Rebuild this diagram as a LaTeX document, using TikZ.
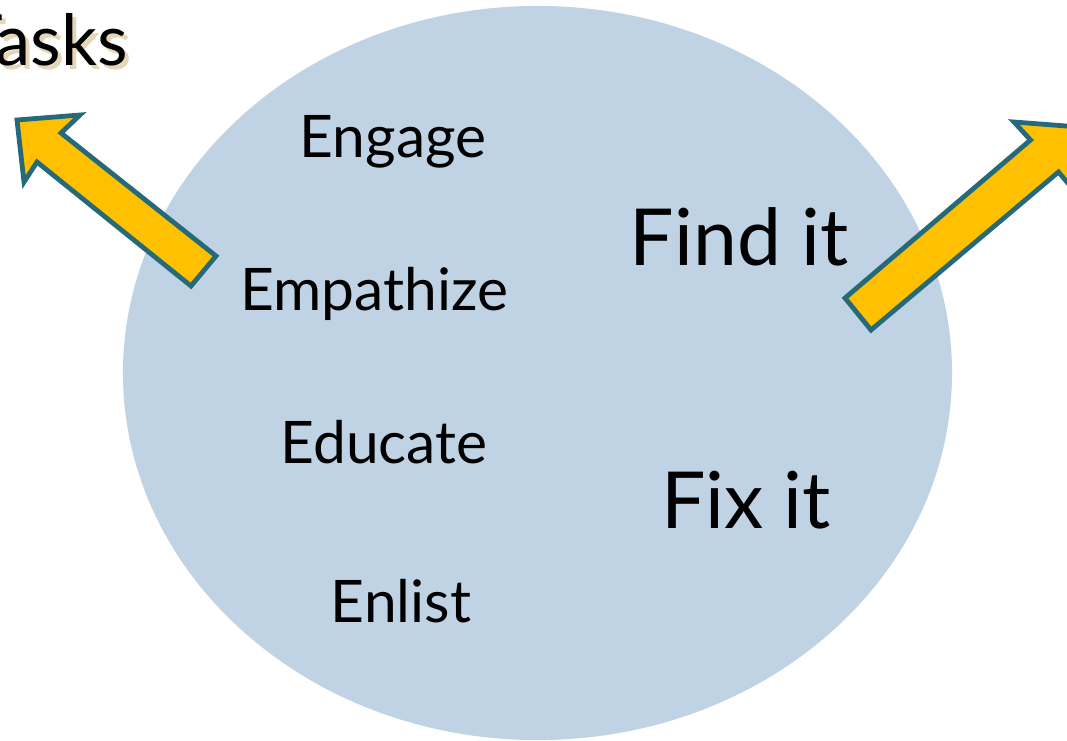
\documentclass[tikz,border=0pt]{standalone}
\usepackage{fontspec}
\setmainfont{Lato}
\definecolor{bubble}{RGB}{192,211,228}
\definecolor{arrowfill}{RGB}{255,192,0}
\definecolor{arrowline}{RGB}{38,106,122}
\definecolor{shade}{RGB}{230,214,184}
\begin{document}
\begin{tikzpicture}[
    x=0.75pt, y=-0.75pt,
    blockarrow/.style={fill=arrowfill, draw=arrowline, line width=3.6pt, line join=miter},
    word/.style={anchor=base, inner sep=0pt, font=\fontsize{44}{50}\selectfont},
    bigword/.style={anchor=base, inner sep=0pt, font=\fontsize{59}{66}\selectfont}]

    \useasboundingbox (0,0) rectangle (1067,740);
    \clip (0,0) rectangle (1067,740);

    % the bubble
    \fill[bubble] (537.5,373) ellipse [x radius=310.9pt, y radius=275.3pt];

    % heading, with its shadow
    \node[anchor=base east, inner sep=0pt, text=shade, font=\fontsize{53}{58}\selectfont] (tasksshade) at (132,69) {Tasks};
    \node[anchor=base east, inner sep=0pt, font=\fontsize{53}{58}\selectfont] (tasks) at (128,65) {Tasks};

    % left column
    \node[word] (engage) at (393,157) {Engage};
    \node[word] (empathize) at (374,310) {Empathize};
    \node[word] (educate) at (384,463) {Educate};
    \node[word] (enlist) at (401,622) {Enlist};

    % right column
    \node[bigword] (findit) at (739,265) {Find it};
    \node[bigword] (fixit) at (746,528) {Fix it};

    % block arrows
    \draw[blockarrow] (17,120) -- (80,115) -- (61,133) -- (216,256)
        -- (191,286) -- (37,162) -- (24,182) -- cycle;
    \draw[blockarrow] (845,298) -- (1030.5,140) -- (1014,122) -- (1079,127)
        -- (1074.5,191) -- (1058.5,172) -- (871,330) -- cycle;
\end{tikzpicture}
\end{document}
